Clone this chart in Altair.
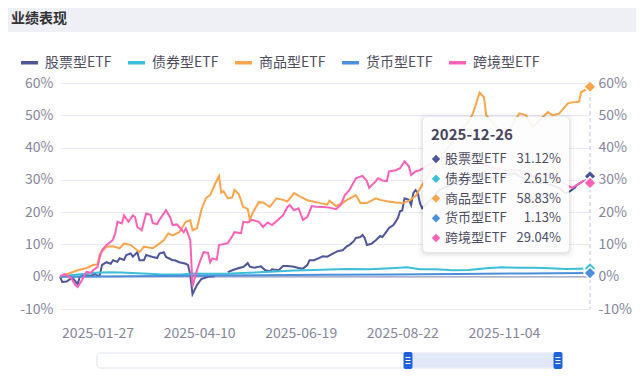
import altair as alt
import pandas as pd

FONT = "Noto Sans CJK SC"
TITLE = "业绩表现"
SERIES = ["股票型ETF", "债券型ETF", "商品型ETF", "货币型ETF", "跨境型ETF"]
COLORS = ["#4c5699", "#3dbfd9", "#f8a54c", "#4a8fdc", "#fa62b6"]
LAST_DATE = "2025-12-26"
LAST_DAY = 240  # trading-day index of 2025-12-26 (2025-01-02 = 0)
X_TICK_DAYS = [17, 63, 109, 155, 201]
X_TICK_LABELS = ["2025-01-27", "2025-04-10", "2025-06-19", "2025-08-22", "2025-11-04"]
Y_TICKS = [-10, 0, 10, 20, 30, 40, 50, 60]

# 股票型ETF (None = gap in the series)
STOCK_DAY = [0, 1, 3, 5, 6, 8, 9, 11, 14, 16,
             17, 18, 19, 21, 23, 24, 26, 27, 29, 30,
             32, 33, 35, 36, 38, 39, 42, 44, 45, 47,
             48, 51, 52, 54, 57, 58, 59, 60, 62, 64,
             67, 69, 70, 72, 76, 78, 81, 83, 85, 86,
             88, 91, 93, 95, 96, 99, 101, 103, 106, 108,
             110, 112, 113, 115, 117, 119, 121, 124, 126, 128,
             130, 131, 133, 134, 136, 137, 138, 139, 141, 143,
             145, 146, 148, 149, 151, 153, 154, 155, 156, 158,
             159, 160, 161, 162, 163, 164, 168, 172, 179, 186,
             192, 199, 206, 213, 220, 226, 229, 231, 233, 234,
             237, 238, 240]
STOCK_PCT = [0, -1.6, -1.5, -0.5, -0.6, -2.3, 0.0, 0.5, 0.3, 0.8,
             0.3, 0.5, 3.6, 4.5, 4.0, 5.1, 4.6, 5.7, 5.2, 6.7,
             7.2, 6.2, 7.6, 5.1, 5.1, 6.7, 6.1, 5.8, 7.2, 7.6,
             6.1, 5.1, 5.1, 4.5, 4.0, 3.6, 0.5, -5.4, -2.6, -0.7,
             0.0, 0.1, 0.1, None, 1.4, 2.0, 2.7, 3.0, 4.2, 3.1,
             2.8, 3.2, 2.0, 1.7, 2.3, 2.0, 3.3, 3.3, 3.1, 2.7,
             2.5, 3.6, 5.1, 5.1, 5.7, 6.3, 6.2, 7.3, 8.0, 8.2,
             9.5, 9.8, 11.0, 12.0, 12.3, 12.9, 12.0, 9.8, 10.2, 11.3,
             12.6, 12.3, 14.1, 15.1, 16.0, 18.2, 20.3, 20.5, 24.3, 23.8,
             22.2, 25.9, 26.8, 26.0, 22.8, 21.2, 24, 27, 29, 31,
             30, 31, 32, 29, 29, 27.5, 25.8, 26.5, 27.5, 28.4,
             29.6, 29.8, 31.12]

# 债券型ETF
BOND_DAY = [0, 3, 8, 16, 22, 28, 35, 45, 55, 60, 66, 75, 85, 95, 106, 115, 122,
            130, 140, 150, 157, 163, 170, 178, 185, 193, 200, 208, 215, 222, 229, 235, 240]
BOND_PCT = [0, 0.4, 0.7, 1.2, 1.4, 1.3, 1.1, 0.8, 0.7, 1.0, 0.9, 0.9, 1.2, 1.5, 1.9, 2.1, 2.2,
            2.4, 2.3, 2.6, 2.9, 2.3, 2.3, 2.0, 2.1, 2.6, 2.9, 2.8, 2.8, 2.6, 2.4, 2.5, 2.61]

# 商品型ETF
COMM_DAY = [0, 8, 12, 15, 17, 18, 21, 24, 27, 29,
            32, 35, 36, 38, 42, 44, 47, 49, 51, 54,
            57, 59, 60, 62, 64, 66, 68, 70, 72, 73,
            74, 76, 78, 79, 81, 83, 85, 86, 87, 90,
            92, 95, 98, 101, 103, 106, 109, 112, 115, 118,
            121, 122, 125, 128, 130, 134, 136, 139, 143, 145,
            148, 152, 155, 158, 161, 164, 168, 172, 177, 181,
            185, 187, 190, 192, 193, 195, 199, 204, 208, 211,
            214, 217, 221, 223, 226, 230, 232, 235, 236, 239,
            240]
COMM_PCT = [0, 2.0, 2.7, 3.6, 3.8, 7.0, 9.3, 9.4, 8.8, 10.3,
            9.8, 8.2, 7.6, 9.3, 8.8, 9.8, 11.3, 13.4, 12.8, 13.8,
            17.0, 17.5, 14.4, 15.0, 20.6, 24.3, 25.3, 28.4, 31.2, 26.0,
            26.5, 24.3, 24.5, 26.9, 25.5, 21.6, 21.0, 17.5, 19.5, 23.1,
            23.0, 21.6, 24.3, 23.8, 23.3, 25.9, 24.7, 23.7, 23.2, 22.8,
            22.3, 23.5, 21.9, 22.8, 23.8, 25.3, 22.8, 22.8, 24.3, 23.8,
            23.4, 23.0, 22.8, 23.5, 25.0, 28.4, 33, 37, 41, 45,
            48, 50.6, 57.0, 55.6, 50.0, 48.5, 45.0, 46, 50.6, 50,
            46.3, 48.4, 51.0, 50, 50.5, 53.7, 54.0, 54.2, 57.2, 58.3,
            58.83]

# 货币型ETF
CASH_DAY = [0, 30, 60, 90, 120, 150, 180, 210, 240]
CASH_PCT = [0, 0.15, 0.3, 0.45, 0.58, 0.72, 0.86, 0.99, 1.13]

# 跨境型ETF
CROSS_DAY = [0, 1, 2, 5, 7, 8, 10, 12, 14, 15,
             17, 18, 19, 21, 23, 24, 25, 26, 28, 29,
             31, 33, 34, 35, 37, 39, 41, 42, 44, 45,
             47, 48, 50, 51, 53, 54, 56, 57, 59, 60,
             62, 63, 65, 67, 68, 69, 71, 72, 76, 78,
             79, 82, 83, 85, 87, 90, 92, 94, 96, 98,
             101, 103, 104, 106, 108, 110, 112, 114, 116, 119,
             122, 125, 127, 129, 131, 134, 136, 137, 139, 140,
             143, 144, 146, 148, 149, 152, 154, 156, 158, 159,
             161, 163, 168, 174, 181, 188, 195, 202, 208, 215,
             222, 229, 232, 234, 237, 238, 240]
CROSS_PCT = [0, 0.5, 0.8, -0.4, -2.6, -3.2, -1.0, 1.5, 1.2, 2.0,
             3.0, 6.0, 8.2, 9.8, 10.8, 11.5, 13.4, 17.0, 16.5, 19.0,
             17.0, 19.0, 18.5, 15.4, 14.4, 19.6, 19.2, 16.6, 16.3, 17.6,
             19.6, 20.6, 18.2, 16.0, 16.2, 15.4, 13.8, 15.0, 11.3, -3.0,
             2.0, 4.0, 7.6, 7.4, 4.5, 5.7, 5.3, 9.8, 10.4, 12.5,
             13.8, 13.5, 17.0, 16.8, 17.6, 17.0, 15.4, 16.8, 16.0, 17.2,
             19.0, 21.6, 22.2, 20.6, 21.2, 17.6, 18.5, 21.9, 21.7, 21.6,
             21.4, 20.9, 22.2, 25.3, 26.8, 30.5, 31.0, 31.2, 29.6, 27.5,
             29.6, 30.5, 29.8, 29.6, 32.6, 33.0, 33.6, 35.7, 34.2, 31.5,
             32.6, 33.0, 35, 37, 38, 36, 34, 33, 33, 31,
             32, 28.5, 27.5, 28.4, 29.6, 29.8, 29.04]

SERIES_DATA = [(STOCK_DAY, STOCK_PCT), (BOND_DAY, BOND_PCT), (COMM_DAY, COMM_PCT),
               (CASH_DAY, CASH_PCT), (CROSS_DAY, CROSS_PCT)]

records = []
for name, (days, pcts) in zip(SERIES, SERIES_DATA):
    seg = 0
    for d, p in zip(days, pcts):
        if p is None:
            seg += 1
            continue
        records.append({"series": name, "day": d, "pct": p, "seg": f"{name}-{seg}"})
df = pd.DataFrame(records)

last = pd.DataFrame({
    "series": SERIES,
    "day": [LAST_DAY] * len(SERIES),
    "pct": [pcts[-1] for _, pcts in SERIES_DATA],
    "row": list(range(len(SERIES))),
})
last["label"] = last["pct"].map(lambda v: f"{v:.2f}%")

AX_COLOR = "#85859a"
y_scale = alt.Scale(domain=[-10, 60], nice=False, zero=False)
x_scale = alt.Scale(domain=[0, LAST_DAY], nice=False, zero=False)
x_expr = " : ".join(f"datum.value == {d} ? '{t}'" for d, t in zip(X_TICK_DAYS, X_TICK_LABELS)) + " : ''"

X = alt.X("day:Q", scale=x_scale, title=None,
          axis=alt.Axis(values=X_TICK_DAYS, labelExpr=x_expr, ticks=False, domain=False,
                        grid=False, labelPadding=17, labelFontSize=14, labelColor=AX_COLOR,
                        labelOverlap=False, labelFlush=False))
Y_LEFT = alt.Y("pct:Q", scale=y_scale, title=None,
               axis=alt.Axis(values=Y_TICKS, labelExpr="datum.value + '%'", ticks=False,
                             domain=False, grid=True, gridColor="#e8e9f2", labelPadding=7,
                             labelFontSize=14, labelColor=AX_COLOR))
Y_RIGHT = alt.Y("pct:Q", scale=y_scale, title=None,
                axis=alt.Axis(orient="right", values=Y_TICKS, labelExpr="datum.value + '%'",
                              ticks=False, domain=False, grid=False, labelPadding=8,
                              labelFontSize=14, labelColor=AX_COLOR))
C = alt.Color("series:N", scale=alt.Scale(domain=SERIES, range=COLORS), sort=SERIES,
              legend=alt.Legend(title=None, orient="none", legendX=-41, legendY=-31,
                                direction="horizontal", columns=5, symbolType="stroke",
                                symbolSize=289, symbolStrokeWidth=3.5, labelFontSize=14,
                                labelColor="#4e4e5e", labelOffset=5, columnPadding=9,
                                padding=0))

one = alt.Chart(pd.DataFrame({"k": [0]}))

title_bar = one.mark_rect(color="#eff0f5").encode(
    x=alt.value(-52), x2=alt.value(576), y=alt.value(-75), y2=alt.value(-51))
title_text = one.mark_text(text=TITLE, align="left", baseline="middle", fontSize=14,
                           fontWeight="bold", color="#333333").encode(
    x=alt.value(-49), y=alt.value(-64))

zero_rule = alt.Chart(pd.DataFrame({"pct": [0]})).mark_rule(
    color="#aab0cf", strokeWidth=1.5).encode(y=alt.Y("pct:Q", scale=y_scale, axis=None))

lines = alt.Chart(df).mark_line(strokeWidth=2).encode(
    x=X, y=Y_LEFT, color=C, detail="seg:N", order="day:Q")

pointer = alt.Chart(pd.DataFrame({"day": [LAST_DAY]})).mark_rule(
    color="#b8c3ea", strokeDash=[4, 3], strokeWidth=1).encode(x=X)

ends = alt.Chart(last).mark_point(shape="diamond", filled=True, size=150, opacity=1,
                                  stroke="white", strokeWidth=1.5).encode(
    x=X, y=Y_RIGHT, color=C)

shadows = [
    one.mark_rect(color="#000000", opacity=op, cornerRadius=6).encode(
        x=alt.value(363 - p), x2=alt.value(509 + p), y=alt.value(35 - p), y2=alt.value(170 + p))
    for p, op in [(5, 0.02), (3, 0.03), (1.5, 0.04)]
]
box = one.mark_rect(color="white", opacity=0.9, cornerRadius=4).encode(
    x=alt.value(363), x2=alt.value(509), y=alt.value(34), y2=alt.value(169))
tip_title = one.mark_text(text=LAST_DATE, align="left", baseline="middle", fontSize=15,
                          fontWeight="bold", color="#45455c").encode(
    x=alt.value(371), y=alt.value(52))
tip_base = alt.Chart(last).transform_calculate(ty="76 + 19.75 * datum.row")
tip_dia = tip_base.mark_point(shape="diamond", filled=True, size=70, opacity=1).encode(
    x=alt.value(376), y=alt.Y("ty:Q", scale=None), color=C)
tip_names = tip_base.mark_text(align="left", baseline="middle", fontSize=13,
                               color="#4d4d63").encode(
    x=alt.value(385), y=alt.Y("ty:Q", scale=None), text="series:N")
tip_vals = tip_base.mark_text(align="right", baseline="middle", fontSize=13,
                              color="#4d4d63").encode(
    x=alt.value(501), y=alt.Y("ty:Q", scale=None), text="label:N")

slider = [
    one.mark_rect(fill="white", stroke="#dfe3ee", strokeWidth=1, cornerRadius=3).encode(
        x=alt.value(37), x2=alt.value(498), y=alt.value(270), y2=alt.value(285)),
    one.mark_rect(color="#e1e8f7").encode(
        x=alt.value(348), x2=alt.value(498), y=alt.value(270.5), y2=alt.value(284.5)),
]
for hx in (348, 498):
    slider.append(one.mark_rect(color="#2262d8", cornerRadius=2).encode(
        x=alt.value(hx - 4.5), x2=alt.value(hx + 4.5), y=alt.value(269), y2=alt.value(286)))
    for dy in (-3, 0, 3):
        slider.append(one.mark_rule(color="white", strokeWidth=1).encode(
            x=alt.value(hx - 2.5), x2=alt.value(hx + 2.5), y=alt.value(277.5 + dy)))

chart = alt.layer(
    title_bar, title_text, zero_rule, lines, pointer, ends,
    *shadows, box, tip_title, tip_dia, tip_names, tip_vals, *slider
).resolve_axis(y="independent").properties(
    width=530, height=226,
    padding={"left": 52, "top": 75, "right": 46, "bottom": 62},
    autosize=alt.AutoSizeParams(type="none"),
).configure(font=FONT).configure_view(stroke=None)

chart.save("out.html", embed_options={"renderer": "svg", "actions": False})
